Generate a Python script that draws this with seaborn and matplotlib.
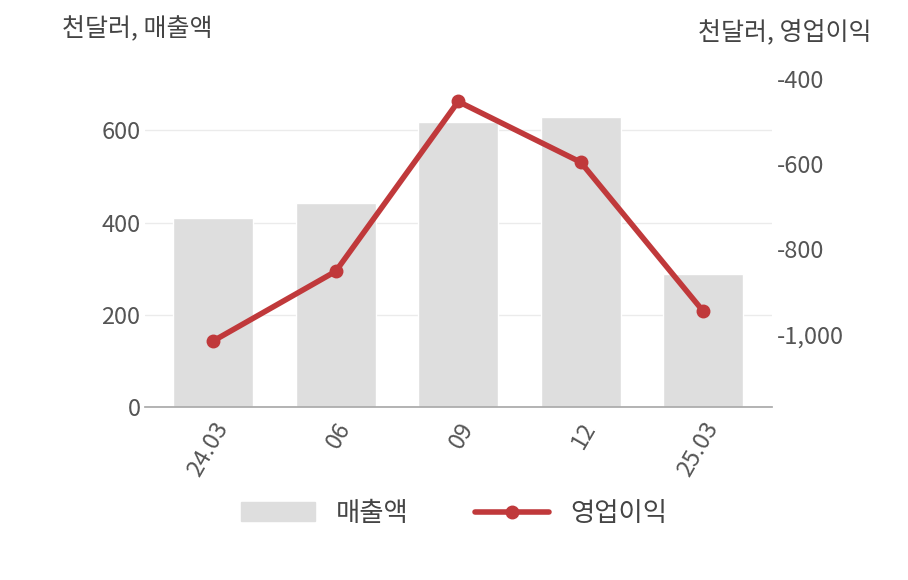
import pandas as pd
import matplotlib
matplotlib.use("Agg")
import matplotlib.pyplot as plt
import seaborn as sns
from matplotlib.patches import Patch
from matplotlib.lines import Line2D

periods = ['24.03', '06', '09', '12', '25.03']
sales = [411, 442, 619, 630, 288]
op_income = [-1016, -852, -452, -595, -946]

sns.set_theme(style='white')
plt.rcParams['font.family'] = ['Noto Sans CJK KR', 'DejaVu Sans']

df = pd.DataFrame({'period': periods, 'sales': sales, 'op': op_income})

fig = plt.figure(figsize=(9.08, 5.80), dpi=100)
ax = fig.add_axes([0.160, 0.298, 0.690, 0.598])
sns.barplot(data=df, x='period', y='sales', color='#dedede', width=0.65,
            saturation=1, ax=ax, zorder=2)
ax.set_xlim(-0.555, 4.56)
ax.set_ylim(0, 752)
ax.set_yticks([0, 200, 400, 600])
ax.yaxis.grid(True, color='#ebebeb', linewidth=1, zorder=0)
ax.set_axisbelow(True)
for s in ['top', 'right', 'left']:
    ax.spines[s].set_visible(False)
ax.spines['bottom'].set_color('#aaaaaa')
ax.set_xlabel('')
ax.set_ylabel('')
ax.tick_params(axis='y', labelsize=17, colors='#555555', length=0)
ax.tick_params(axis='x', labelsize=17, colors='#555555', length=0, pad=8)
plt.setp(ax.get_xticklabels(), rotation=60, ha='right', rotation_mode='anchor')

ax2 = ax.twinx()
ax2.plot(range(len(periods)), op_income, color='#c0393b', linewidth=4,
         marker='o', markersize=9, zorder=5)
ax2.set_ylim(-1172, -355)
ax2.set_yticks([-1000, -800, -600, -400])
ax2.set_yticklabels(['-1,000', '-800', '-600', '-400'])
for s in ax2.spines.values():
    s.set_visible(False)
ax2.tick_params(axis='y', labelsize=17, colors='#555555', length=0)
ax2.grid(False)

fig.text(0.068, 0.95, '천달러, 매출액', fontsize=18, color='#444444', ha='left', va='center')
fig.text(0.96, 0.945, '천달러, 영업이익', fontsize=18, color='#444444', ha='right', va='center')

handles = [Patch(color='#dedede'),
           Line2D([0], [0], color='#c0393b', linewidth=4, marker='o', markersize=9)]
fig.legend(handles, ['매출액', '영업이익'], loc='center', bbox_to_anchor=(0.5, 0.115),
           ncol=2, frameon=False, fontsize=19, handlelength=2.8, columnspacing=2.5,
           labelcolor='#444444')

fig.savefig('out.png', dpi=100)
